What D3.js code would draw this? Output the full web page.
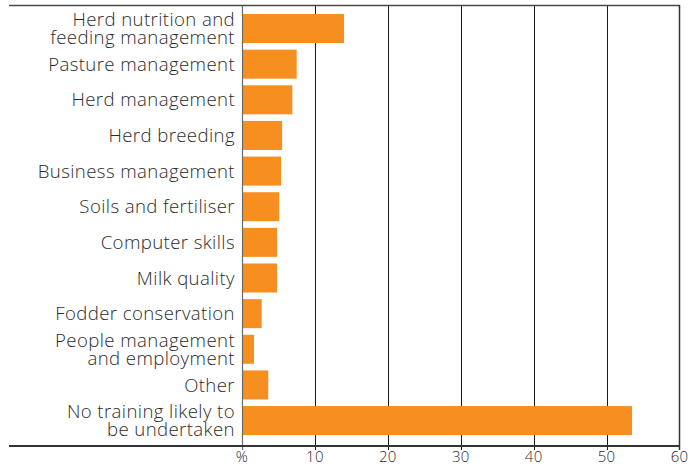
<!DOCTYPE html>
<html>
<head>
<meta charset="utf-8">
<script src="https://cdn.jsdelivr.net/npm/d3@7"></script>
<style>
  html, body { margin: 0; padding: 0; background: #fff; }
  svg { display: block; }
  .cat { font-family: "Open Sans", "Noto Sans", sans-serif; font-weight: 300; font-size: 18.6px; letter-spacing: 0.4px; fill: #2b2b2b; }
  .tick-label { font-family: "Open Sans", "Noto Sans", sans-serif; font-weight: 300; font-size: 15px; letter-spacing: 0.3px; fill: #2b2b2b; }
</style>
</head>
<body>
<svg id="chart" width="693" height="467"></svg>
<script>
// Training areas, each label split into its display lines
const categories = [
  ["Herd nutrition and", "feeding management"],
  ["Pasture management"],
  ["Herd management"],
  ["Herd breeding"],
  ["Business management"],
  ["Soils and fertiliser"],
  ["Computer skills"],
  ["Milk quality"],
  ["Fodder conservation"],
  ["People management", "and employment"],
  ["Other"],
  ["No training likely to", "be undertaken"]
];
// Share of respondents (%)
const values = [14.0, 7.5, 6.9, 5.5, 5.35, 5.1, 4.8, 4.8, 2.7, 1.65, 3.6, 53.5];
const tickValues = [0, 10, 20, 30, 40, 50, 60];
const tickLabels = ["%", "10", "20", "30", "40", "50", "60"];

const svg = d3.select("#chart");
const frameLeft = 9, plotLeft = 242, plotRight = 679.5;
const plotTop = 5, plotBottom = 446;

const x = d3.scaleLinear().domain([0, 60]).range([plotLeft, plotRight]);
const y = d3.scaleBand()
  .domain(d3.range(categories.length))
  .range([10.7, 438.4])
  .paddingInner(0.186)
  .paddingOuter(0.093);

// vertical gridlines (with short ticks below the baseline)
svg.append("g")
  .selectAll("line")
  .data(tickValues.filter(v => v > 0 && v < 60))
  .join("line")
  .attr("x1", d => Math.round(x(d)) + 0.5)
  .attr("x2", d => Math.round(x(d)) + 0.5)
  .attr("y1", plotTop)
  .attr("y2", plotBottom + 4)
  .attr("stroke", "#1a1a1a")
  .attr("stroke-width", 1);

// bars
svg.append("g")
  .selectAll("rect")
  .data(values)
  .join("rect")
  .attr("x", x(0))
  .attr("y", (d, i) => y(i))
  .attr("width", d => x(d) - x(0))
  .attr("height", y.bandwidth())
  .attr("fill", "#f68f1f");

// value axis baseline at 0
svg.append("line")
  .attr("x1", Math.round(x(0)) + 0.5).attr("x2", Math.round(x(0)) + 0.5)
  .attr("y1", plotTop).attr("y2", plotBottom + 4)
  .attr("stroke", "#6a6a6a").attr("stroke-width", 1.2);

// frame: top, right, bottom
svg.append("line")
  .attr("x1", frameLeft).attr("x2", plotRight + 0.5)
  .attr("y1", plotTop + 0.5).attr("y2", plotTop + 0.5)
  .attr("stroke", "#4a4a4a").attr("stroke-width", 1.5);
svg.append("line")
  .attr("x1", plotRight).attr("x2", plotRight)
  .attr("y1", plotTop).attr("y2", plotBottom + 4)
  .attr("stroke", "#333").attr("stroke-width", 1.5);
svg.append("line")
  .attr("x1", frameLeft).attr("x2", plotRight + 0.5)
  .attr("y1", plotBottom).attr("y2", plotBottom)
  .attr("stroke", "#333").attr("stroke-width", 1.8);

// tick labels
svg.append("g")
  .selectAll("text")
  .data(tickValues)
  .join("text")
  .attr("class", "tick-label")
  .attr("x", d => x(d))
  .attr("y", 461.5)
  .attr("text-anchor", "middle")
  .text((d, i) => tickLabels[i]);

// category labels, right-aligned and vertically centred on each bar
const lineH = 18.3;
const labels = svg.append("g")
  .selectAll("text")
  .data(categories)
  .join("text")
  .attr("class", "cat")
  .attr("text-anchor", "end");
labels.each(function(lines, i) {
  const cy = y(i) + y.bandwidth() / 2;
  const firstBaseline = cy + 6.6 - (lines.length - 1) * lineH / 2;
  d3.select(this).selectAll("tspan")
    .data(lines)
    .join("tspan")
    .attr("x", 235)
    .attr("y", (l, k) => firstBaseline + k * lineH)
    .text(l => l);
});
</script>
</body>
</html>
